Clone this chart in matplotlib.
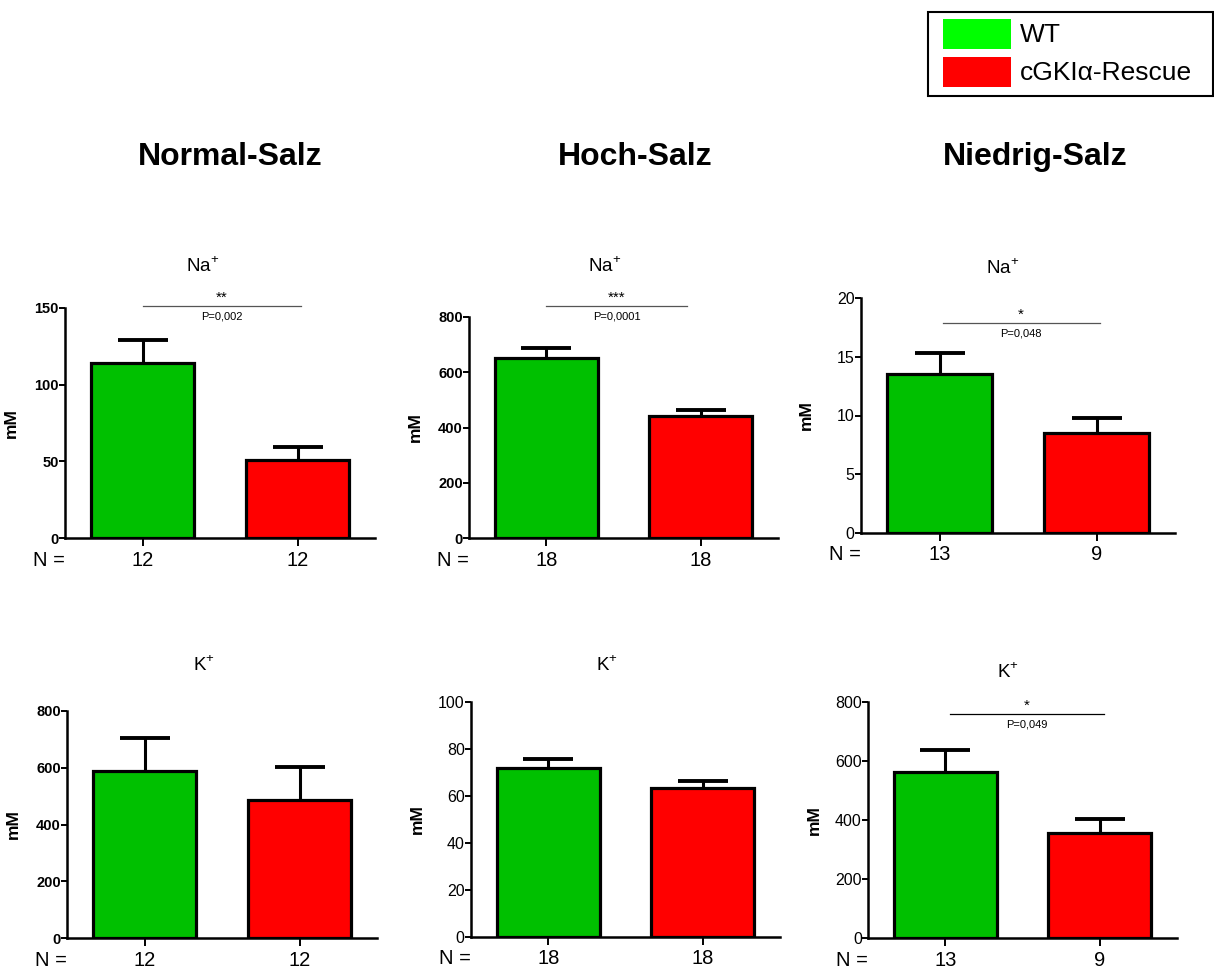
import numpy as np
import matplotlib.pyplot as plt
import matplotlib.transforms as mtransforms
from matplotlib.patches import Rectangle

plt.rcParams['font.family'] = ['Liberation Sans', 'DejaVu Sans']
plt.rcParams['mathtext.fontset'] = 'custom'
plt.rcParams['mathtext.rm'] = 'Liberation Sans'

# %% data
columns = ['Normal-Salz', 'Hoch-Salz', 'Niedrig-Salz']
groups = ['WT', 'cGKIα-Rescue']

na_mean = [[114, 51], [650, 441], [13.5, 8.5]]
na_sem = [[15, 8.5], [39, 21], [1.8, 1.3]]
na_n = [[12, 12], [18, 18], [13, 9]]
na_ymax = [150, 800, 20]
na_ystep = [50, 200, 5]
na_stars = ['**', '***', '*']
na_pval = ['P=0,002', 'P=0,0001', 'P=0,048']

k_mean = [[590, 488], [72, 63.3], [562, 357]]
k_sem = [[116, 113], [3.6, 3.2], [75, 46]]
k_n = [[12, 12], [18, 18], [13, 9]]
k_ymax = [800, 100, 800]
k_ystep = [200, 20, 200]
k_stars = [None, None, '*']
k_pval = [None, None, 'P=0,049']

# %% layout (pixels)
W, H = 1214, 975
bar_colors = ['#00c000', '#ff0000']
legend_colors = ['#00ff00', '#ff0000']

na_boxes = [(65, 375, 308, 538), (469, 778, 317, 538), (861, 1175, 298, 533)]
k_boxes = [(67, 377, 711, 938), (471, 780, 702, 937), (868, 1177, 702, 938)]
na_bold = [True, True, False]
k_bold = [True, False, False]
na_titles = [(203, 266), (605, 266), (1003, 268)]
k_titles = [(204, 665), (607, 665), (1008, 672)]
na_sigpos = [(0, 1.02, 1.009, '#555555'), (0, 0.91, 1.05, '#555555'), (0.02, 1.02, 0.894, '#555555')]
k_sigpos = [None, None, (0.03, 1.03, 0.95, 'black')]
col_title_x = [230, 635, 1035]

fig = plt.figure(figsize=(12.14, 9.75), dpi=100)


def add_px_axes(box):
    left, right, top, bottom = box
    return fig.add_axes([left / W, 1 - bottom / H, (right - left) / W, (bottom - top) / H])


def draw_panel(box, mean, sem, n, ymax, ystep, bold, stars, pval, sigpos):
    ax = add_px_axes(box)
    x = np.arange(len(mean))
    ax.bar(x, mean, width=0.665, color=bar_colors, edgecolor='black', linewidth=2.3, zorder=2)
    eb = ax.errorbar(x, mean, yerr=[np.zeros(len(sem)), sem], fmt='none', ecolor='black',
                     elinewidth=2.2, capsize=18, capthick=2.8, zorder=1)
    # only the upper cap is wanted
    eb[1][0].set_visible(False)
    ax.set_xlim(-0.5, 1.5)
    ax.set_ylim(0, ymax)
    ax.set_yticks(np.arange(0, ymax + ystep / 2, ystep))
    ax.set_xticks(x)
    ax.set_xticklabels([str(v) for v in n], fontsize=14.5)
    for s in ['top', 'right']:
        ax.spines[s].set_visible(False)
    for s in ['left', 'bottom']:
        ax.spines[s].set_linewidth(1.8)
    ax.tick_params(axis='y', length=4.5, width=1.4, pad=0,
                   labelsize=10.5 if bold else 11.5)
    ax.tick_params(axis='x', length=6, width=1.4, pad=3)
    if bold:
        for lab in ax.get_yticklabels():
            lab.set_fontweight('bold')
    ax.set_ylabel('mM', fontsize=12.5, fontweight='bold')
    ax.yaxis.set_label_coords(-0.15, 0.5)
    ax.annotate('N =', xy=(0, 0), xycoords='axes fraction', xytext=(0, -9),
                textcoords='offset points', ha='right', va='top', fontsize=14.5)
    if stars is not None:
        x0, x1, yf, c = sigpos
        trans = mtransforms.blended_transform_factory(ax.transData, ax.transAxes)
        ax.plot([x0, x1], [yf, yf], color=c, lw=0.9, transform=trans, clip_on=False)
        ax.annotate(stars, xy=((x0 + x1) / 2, yf), xycoords=trans, xytext=(0, 0.5),
                    textcoords='offset points', ha='center', va='bottom', fontsize=11)
        ax.annotate(pval, xy=((x0 + x1) / 2, yf), xycoords=trans, xytext=(0, -4),
                    textcoords='offset points', ha='center', va='top', fontsize=8)
    return ax


for i in range(3):
    draw_panel(na_boxes[i], na_mean[i], na_sem[i], na_n[i], na_ymax[i], na_ystep[i],
               na_bold[i], na_stars[i], na_pval[i], na_sigpos[i])
    draw_panel(k_boxes[i], k_mean[i], k_sem[i], k_n[i], k_ymax[i], k_ystep[i],
               k_bold[i], k_stars[i], k_pval[i], k_sigpos[i])
    fig.text(na_titles[i][0] / W, 1 - na_titles[i][1] / H, 'Na$^{+}$', fontsize=13.5,
             ha='center', va='center')
    fig.text(k_titles[i][0] / W, 1 - k_titles[i][1] / H, 'K$^{+}$', fontsize=13.5,
             ha='center', va='center')
    fig.text(col_title_x[i] / W, 1 - 157 / H, columns[i], fontsize=23, fontweight='bold',
             ha='center', va='center')

# legend box drawn by hand
fig.patches.append(Rectangle((928 / W, 1 - 96 / H), 285 / W, 84 / H, transform=fig.transFigure,
                             facecolor='white', edgecolor='black', linewidth=1.5))
for j, g in enumerate(groups):
    top = 19 + 38 * j
    fig.patches.append(Rectangle((943 / W, 1 - (top + 30) / H), 68 / W, 30 / H,
                                 transform=fig.transFigure, facecolor=legend_colors[j],
                                 edgecolor='none'))
    fig.text(1020 / W, 1 - (top + 16) / H, g, fontsize=19, ha='left', va='center')

fig.savefig('out.png', dpi=100)
